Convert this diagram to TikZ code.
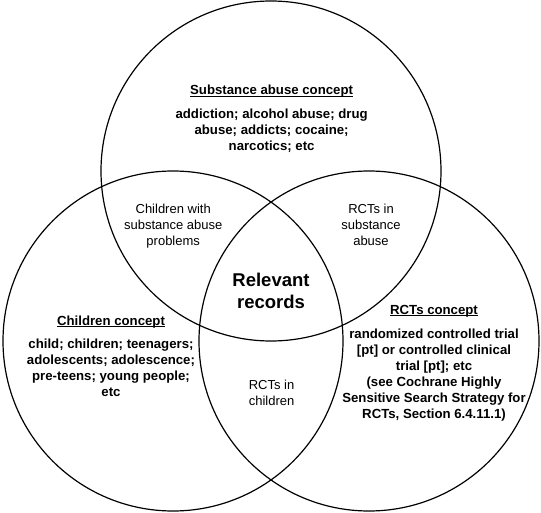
\documentclass[tikz,border=0pt]{standalone}
\usepackage{fontspec}
\setmainfont{Liberation Sans}
\newcommand\ulbox[1]{{\setbox0\hbox{#1}\rlap{\rule[-1.6pt]{\wd0}{0.9pt}}\box0}}
\newcommand\blk[1]{\begin{tabular}[t]{@{}c@{}}#1\end{tabular}}
\begin{document}
\begin{tikzpicture}[x=1pt,y=-1pt,
  ring/.style={line width=1.2pt},
  boldtxt/.style={font=\fontsize{13.2}{16}\selectfont\bfseries, inner sep=0pt, anchor=base},
  plaintxt/.style={font=\fontsize{13}{16}\selectfont, inner sep=0pt, anchor=base},
  bigtxt/.style={font=\fontsize{18.5}{22}\selectfont\bfseries, inner sep=0pt, anchor=base}]
\useasboundingbox (0,0) rectangle (541,513);
\draw[ring] (271,171) circle[radius=170pt];
\draw[ring] (173,341) circle[radius=170pt];
\draw[ring] (369,341) circle[radius=170pt];

\node[boldtxt] (sahead) at (271.6,95) {\ulbox{Substance abuse concept}};
\node[boldtxt] (salist) at (271.6,119) {\blk{addiction; alcohol abuse; drug\\ abuse; addicts; cocaine;\\ narcotics; etc}};

\node[plaintxt] (csa) at (173.2,214) {\blk{Children with\\ substance abuse\\ problems}};
\node[plaintxt] (rsa) at (371,214) {\blk{RCTs in\\ substance\\ abuse}};

\node[bigtxt] (rel) at (271,287) {\begin{tabular}[t]{@{}c@{}}Relevant\\ records\end{tabular}};

\node[boldtxt] (chead) at (111,325) {\ulbox{Children concept}};
\node[boldtxt] (clist) at (111,348.5) {\blk{child; children; teenagers;\\ adolescents; adolescence;\\ pre-teens; young people;\\ etc}};

\node[plaintxt] (rc) at (271.6,389) {\blk{RCTs in\\ children}};

\node[boldtxt] (rhead) at (434,314) {\ulbox{RCTs concept}};
\node[boldtxt] (rlist) at (434,338) {\blk{randomized controlled trial\\ \relax[pt] or controlled clinical\\ trial [pt]; etc\\ (see Cochrane Highly\\ Sensitive Search Strategy for\\ RCTs, Section 6.4.11.1)}};
\end{tikzpicture}
\end{document}
